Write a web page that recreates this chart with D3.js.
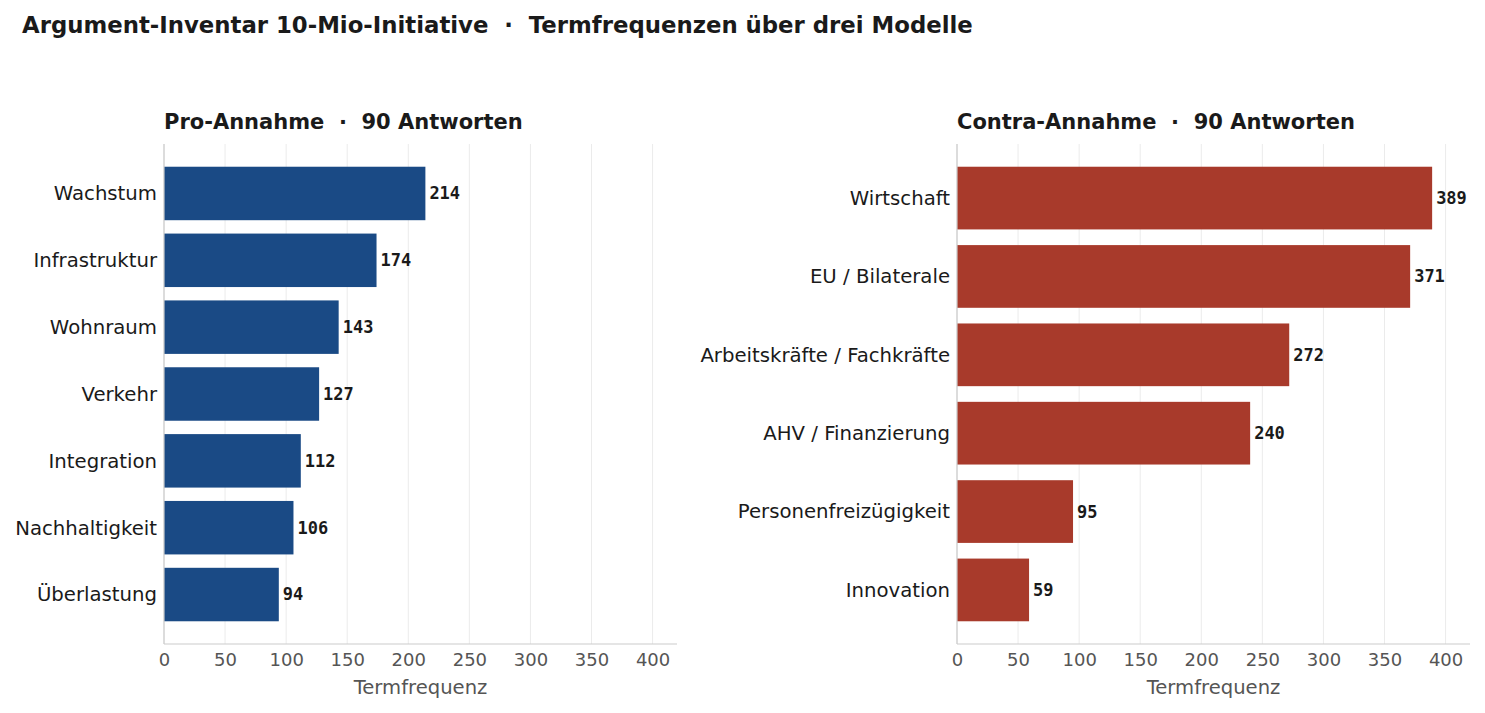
<!DOCTYPE html>
<html>
<head>
<meta charset="utf-8">
<script src="https://cdn.jsdelivr.net/npm/d3@7"></script>
<style>
  body { margin: 0; background: #fff; font-family: "DejaVu Sans", sans-serif; }
  text { white-space: pre; }
  .grid line { stroke: #ebebeb; stroke-width: 1; }
  .tick text { fill: #555; }
</style>
</head>
<body>
<svg id="chart" width="1485" height="713"></svg>
<script>
// Pro side
var proTerms = ["Wachstum", "Infrastruktur", "Wohnraum", "Verkehr", "Integration", "Nachhaltigkeit", "Überlastung"];
var proValues = [214, 174, 143, 127, 112, 106, 94];
// Contra side
var contraTerms = ["Wirtschaft", "EU / Bilaterale", "Arbeitskräfte / Fachkräfte", "AHV / Finanzierung", "Personenfreizügigkeit", "Innovation"];
var contraValues = [389, 371, 272, 240, 95, 59];
var xTicks = [0, 50, 100, 150, 200, 250, 300, 350, 400];
var xMax = 420;

var svg = d3.select("#chart");

svg.append("text")
    .attr("x", 22)
    .attr("y", 33)
    .attr("font-size", 22.8)
    .attr("font-weight", "bold")
    .attr("fill", "#1a1a1a")
    .text("Argument-Inventar 10-Mio-Initiative  ·  Termfrequenzen über drei Modelle");

// draws one panel
function drawPanel(left, title, terms, values, color) {
    var top = 144, width = 513, height = 500;
    var g = svg.append("g").attr("transform", "translate(" + left + "," + top + ")");

    var x = d3.scaleLinear().domain([0, xMax]).range([0, width]);
    var n = terms.length;
    // matplotlib-like 5% margins around the bars
    var y = d3.scaleBand()
        .domain(terms)
        .range([0, height])
        .paddingInner(0.2)
        .paddingOuter(0.05 * (n - 0.2));

    // vertical grid
    g.append("g").attr("class", "grid")
        .selectAll("line").data(xTicks).enter().append("line")
        .attr("x1", function(d) { return x(d); })
        .attr("x2", function(d) { return x(d); })
        .attr("y1", 0)
        .attr("y2", height);

    g.selectAll("rect").data(values).enter().append("rect")
        .attr("x", 0)
        .attr("y", function(d, i) { return y(terms[i]); })
        .attr("width", function(d) { return x(d); })
        .attr("height", y.bandwidth())
        .attr("fill", color);

    g.selectAll(".val").data(values).enter().append("text")
        .attr("class", "val")
        .attr("x", function(d) { return x(d) + 4; })
        .attr("y", function(d, i) { return y(terms[i]) + y.bandwidth() / 2; })
        .attr("dy", "0.35em")
        .attr("font-family", "DejaVu Sans Mono, monospace")
        .attr("font-weight", "bold")
        .attr("font-size", 17)
        .attr("fill", "#1a1a1a")
        .text(function(d) { return d; });

    // category labels
    g.selectAll(".cat").data(terms).enter().append("text")
        .attr("class", "cat")
        .attr("x", -7)
        .attr("y", function(d) { return y(d) + y.bandwidth() / 2; })
        .attr("dy", "0.35em")
        .attr("text-anchor", "end")
        .attr("font-size", 19.7)
        .attr("fill", "#1a1a1a")
        .text(function(d) { return d; });

    // spines
    g.append("line").attr("x1", 0).attr("x2", 0).attr("y1", 0).attr("y2", height)
        .attr("stroke", "#cccccc").attr("stroke-width", 1.2);
    g.append("line").attr("x1", 0).attr("x2", width).attr("y1", height).attr("y2", height)
        .attr("stroke", "#cccccc").attr("stroke-width", 1.2);

    var xAxis = d3.axisBottom(x).tickValues(xTicks).tickSize(0).tickPadding(9);
    var ax = g.append("g").attr("transform", "translate(0," + height + ")").call(xAxis);
    ax.select(".domain").remove();
    ax.selectAll("text").attr("font-size", 18).attr("font-family", "DejaVu Sans, sans-serif");

    g.append("text")
        .attr("x", width / 2)
        .attr("y", height + 50)
        .attr("text-anchor", "middle")
        .attr("font-size", 19.6)
        .attr("fill", "#555")
        .text("Termfrequenz");

    g.append("text")
        .attr("x", 0)
        .attr("y", -15)
        .attr("font-size", 21)
        .attr("font-weight", "bold")
        .attr("fill", "#1a1a1a")
        .text(title);
}

drawPanel(164, "Pro-Annahme  ·  90 Antworten", proTerms, proValues, "#1a4a85");
drawPanel(957, "Contra-Annahme  ·  90 Antworten", contraTerms, contraValues, "#a83a2b");
</script>
</body>
</html>
